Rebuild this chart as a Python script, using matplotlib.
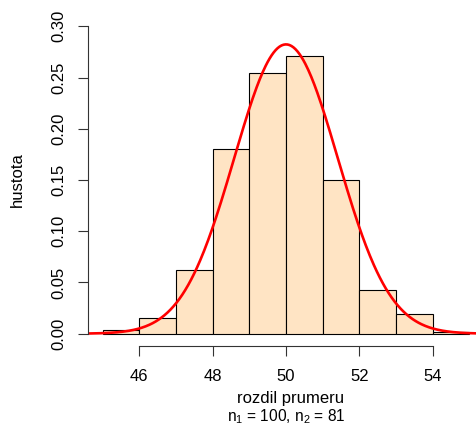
import matplotlib.pyplot as plt
import numpy as np

plt.rcParams['font.family'] = ['Liberation Sans', 'DejaVu Sans']
plt.rcParams['mathtext.fontset'] = 'custom'
plt.rcParams['mathtext.rm'] = 'Liberation Sans'
plt.rcParams['mathtext.it'] = 'Liberation Sans'

# histogram bins (width 1) and densities
bin_edges = [45, 46, 47, 48, 49, 50, 51, 52, 53, 54, 55]
densities = [0.004, 0.015, 0.062, 0.180, 0.254, 0.271, 0.150, 0.043, 0.019, 0.002]

# fitted normal density
mu = 50.0
sigma = 1.413

x_ticks = [46, 48, 50, 52, 54]
y_ticks = [0.00, 0.05, 0.10, 0.15, 0.20, 0.25, 0.30]

W, H = 476, 425
fig = plt.figure(figsize=(W / 100, H / 100), dpi=100)
ax = fig.add_axes([88 / W, 79 / H, 396 / W, 332 / H])

lefts = np.array(bin_edges[:-1])
widths = np.diff(bin_edges)
ax.bar(lefts, densities, width=widths, align='edge', color='#FFE4C4',
       edgecolor='black', linewidth=0.8)

xs = np.linspace(44.6, 55.4, 400)
ys = np.exp(-0.5 * ((xs - mu) / sigma) ** 2) / (sigma * np.sqrt(2 * np.pi))
ax.plot(xs, ys, color='red', linewidth=1.9)

ax.set_xlim(44.6, 55.4)
ax.set_ylim(-0.012, 0.312)

for s in ['top', 'right']:
    ax.spines[s].set_visible(False)
ax.spines['left'].set_bounds(0, 0.30)
ax.spines['bottom'].set_bounds(46, 54)
for s in ['left', 'bottom']:
    ax.spines[s].set_color('#333333')
    ax.spines[s].set_linewidth(0.8)

ax.set_xticks(x_ticks)
ax.set_xticklabels([str(t) for t in x_ticks])
ax.set_yticks(y_ticks)
ax.set_yticklabels([f'{t:.2f}' for t in y_ticks], rotation=90, va='center')
ax.tick_params(axis='both', length=7.5, width=0.8, color='#333333', labelsize=12)
ax.tick_params(axis='x', pad=9)
ax.tick_params(axis='y', pad=8)

# axis titles placed like R's title() lines
fig.text(17 / W, 1 - 180 / H, 'hustota', rotation=90, fontsize=12,
         ha='center', va='center')
fig.text(291 / W, 1 - 399 / H, 'rozdil prumeru', fontsize=12,
         ha='center', va='center')
fig.text(286 / W, 1 - 417 / H, r'n$_1$ = 100, n$_2$ = 81', fontsize=11.2,
         ha='center', va='center')

plt.savefig('out.png', dpi=100)
